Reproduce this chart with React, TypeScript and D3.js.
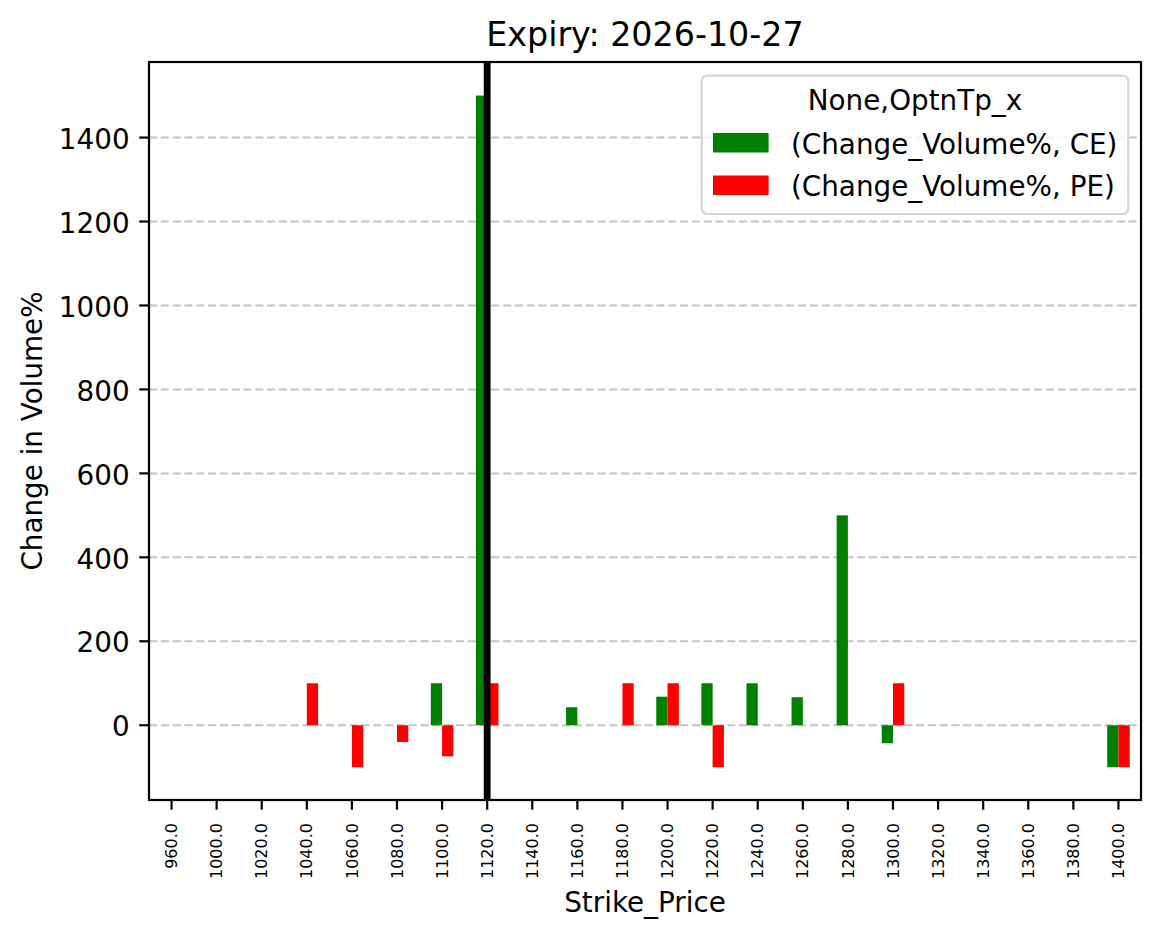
import { useEffect, useRef } from 'react';
import * as d3 from 'd3';

// strike prices on the x axis (980 is absent in the source data)
const strikes = [960, 1000, 1020, 1040, 1060, 1080, 1100, 1120, 1140, 1160, 1180, 1200, 1220, 1240, 1260, 1280, 1300, 1320, 1340, 1360, 1380, 1400];
// change in volume % for calls (CE), null = no bar
const ceValues: (number | null)[] = [null, null, null, null, null, null, 100, 1500, null, 42.9, null, 68, 100, 100, 66.7, 500, -42.9, null, null, null, null, -100];
// change in volume % for puts (PE)
const peValues: (number | null)[] = [null, null, null, 100, -100, -40, -74, 100, null, null, 100, 100, -100, null, null, null, 100, null, null, null, null, -100];
const yTicks = [0, 200, 400, 600, 800, 1000, 1200, 1400];
const atmStrike = 1120;
const seriesNames = ['(Change_Volume%, CE)', '(Change_Volume%, PE)'];
const seriesColors = ['green', 'red'];

const FONT = '"DejaVu Sans", sans-serif';

const App = () => {
  const chartRef = useRef<SVGSVGElement>(null);

  useEffect(() => {
    if (!chartRef.current) return;
    const svg = d3.select(chartRef.current);
    svg.selectAll('*').remove();

    const width = 1161;
    const height = 939;
    const left = 149, right = 1141, top = 62, bottom = 800;

    svg.attr('width', width).attr('height', height);
    svg.append('rect').attr('width', width).attr('height', height).attr('fill', '#fff');

    const labels = strikes.map(s => s.toFixed(1));
    const x = d3.scaleBand().domain(labels).range([left, right]).padding(0);
    const bw = x.bandwidth();
    const cx = (s: string) => (x(s) || 0) + bw / 2;

    // matplotlib style auto-limits: data range -100..1500 plus 5% margins
    const y = d3.scaleLinear().domain([-180, 1580]).range([bottom + 0.8, top]);

    // grid (below bars)
    svg.append('g')
      .selectAll('line')
      .data(yTicks)
      .enter()
      .append('line')
      .attr('x1', left)
      .attr('x2', right)
      .attr('y1', d => y(d))
      .attr('y2', d => y(d))
      .attr('stroke', '#c4c4c4')
      .attr('stroke-width', 2)
      .attr('stroke-dasharray', '8.2,3.6');

    // bars
    const series = [ceValues, peValues];
    series.forEach((vals, i) => {
      const rows = labels.map((l, j) => ({ label: l, value: vals[j] })).filter(d => d.value !== null) as { label: string; value: number }[];
      svg.append('g')
        .selectAll('rect')
        .data(rows)
        .enter()
        .append('rect')
        .attr('x', d => cx(d.label) + (i === 0 ? -bw * 0.25 : 0))
        .attr('width', bw * 0.25)
        .attr('y', d => y(Math.max(0, d.value)))
        .attr('height', d => Math.abs(y(d.value) - y(0)))
        .attr('fill', seriesColors[i]);
    });

    // ATM marker
    const atmX = cx(atmStrike.toFixed(1));
    svg.append('line')
      .attr('x1', atmX).attr('x2', atmX)
      .attr('y1', top).attr('y2', bottom)
      .attr('stroke', '#000')
      .attr('stroke-width', 6.8);

    // frame
    svg.append('rect')
      .attr('x', left).attr('y', top)
      .attr('width', right - left).attr('height', bottom - top)
      .attr('fill', 'none')
      .attr('stroke', '#000')
      .attr('stroke-width', 2.2);

    // x ticks + labels
    const xt = svg.append('g');
    labels.forEach(l => {
      xt.append('line')
        .attr('x1', cx(l)).attr('x2', cx(l))
        .attr('y1', bottom).attr('y2', bottom + 9.7)
        .attr('stroke', '#000').attr('stroke-width', 2.2);
      xt.append('text')
        .attr('transform', `translate(${cx(l) + 5.6},${823}) rotate(-90)`)
        .attr('text-anchor', 'end')
        .style('font-family', FONT)
        .style('font-size', '16px')
        .text(l);
    });

    // y ticks + labels
    const yt = svg.append('g');
    yTicks.forEach(t => {
      yt.append('line')
        .attr('x1', left - 9.7).attr('x2', left)
        .attr('y1', y(t)).attr('y2', y(t))
        .attr('stroke', '#000').attr('stroke-width', 2.2);
      yt.append('text')
        .attr('x', left - 19.4)
        .attr('y', y(t) + 11.2)
        .attr('text-anchor', 'end')
        .style('font-family', FONT)
        .style('font-size', '27.8px')
        .text(String(t));
    });

    // title & axis labels
    svg.append('text')
      .attr('x', (left + right) / 2)
      .attr('y', 45.5)
      .attr('text-anchor', 'middle')
      .style('font-family', FONT)
      .style('font-size', '33.3px')
      .text('Expiry: 2026-10-27');

    svg.append('text')
      .attr('x', (left + right) / 2)
      .attr('y', 912)
      .attr('text-anchor', 'middle')
      .style('font-family', FONT)
      .style('font-size', '27.8px')
      .text('Strike_Price');

    svg.append('text')
      .attr('transform', `translate(41.5,${(top + bottom) / 2}) rotate(-90)`)
      .attr('text-anchor', 'middle')
      .style('font-family', FONT)
      .style('font-size', '27.8px')
      .text('Change in Volume%');

    // legend
    const lg = svg.append('g');
    lg.append('rect')
      .attr('x', 701.7).attr('y', 75.7)
      .attr('width', 426.6).attr('height', 138.3)
      .attr('rx', 5.5)
      .attr('fill', '#fff').attr('fill-opacity', 0.8)
      .attr('stroke', '#d6d6d6').attr('stroke-width', 2.2);
    lg.append('text')
      .attr('x', 915).attr('y', 110)
      .attr('text-anchor', 'middle')
      .style('font-family', FONT)
      .style('font-size', '27.8px')
      .text('None,OptnTp_x');
    seriesNames.forEach((name, i) => {
      const rowY = 133 + i * 42.5;
      lg.append('rect')
        .attr('x', 713).attr('y', rowY)
        .attr('width', 55.6).attr('height', 19.5)
        .attr('fill', seriesColors[i]);
      lg.append('text')
        .attr('x', 791).attr('y', rowY + 20.5)
        .style('font-family', FONT)
        .style('font-size', '27.8px')
        .text(name);
    });
  }, []);

  return (
    <div style={{ position: 'absolute', left: 0, top: 0 }}>
      <svg ref={chartRef} style={{ display: 'block' }} />
    </div>
  );
};

export default App;
